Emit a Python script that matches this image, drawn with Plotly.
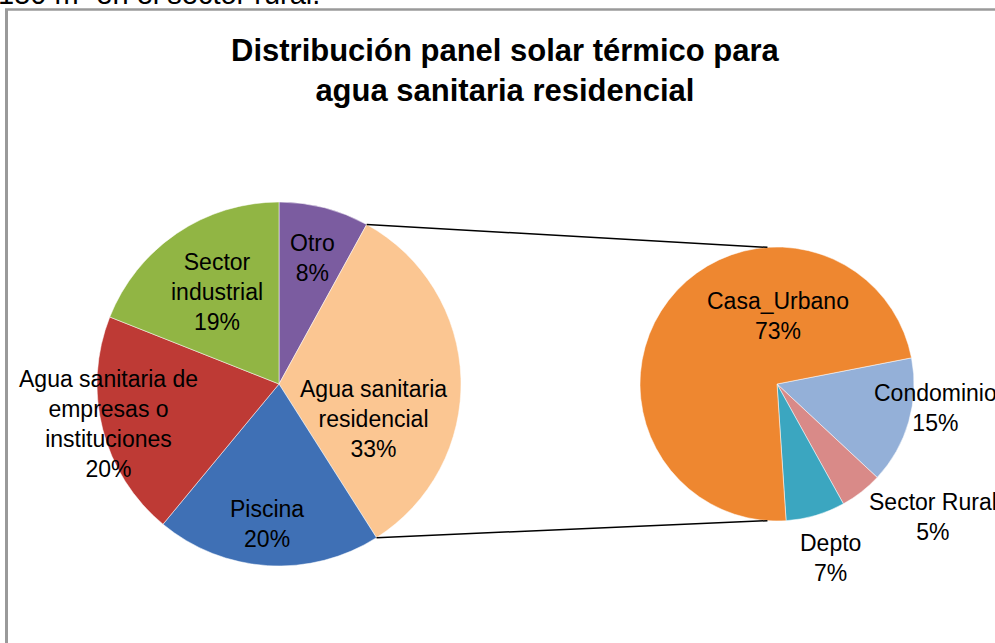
import math
import plotly.graph_objects as go

# ---------------- data ----------------
main_labels = ["Otro", "Agua sanitaria residencial", "Piscina",
               "Agua sanitaria de empresas o instituciones", "Sector industrial"]
main_values = [8, 33, 20, 20, 19]
main_text = ["Otro<br>8%", "Agua sanitaria<br>residencial<br>33%", "Piscina<br>20%",
             "Agua sanitaria de<br>empresas o<br>instituciones<br>20%", "Sector<br>industrial<br>19%"]
main_colors = ["#7B5CA0", "#FBC692", "#3F70B5", "#BE3A35", "#91B544"]

sub_labels = ["Condominio", "Sector Rural", "Depto", "Casa_Urbano"]
sub_values = [15, 5, 7, 73]
sub_text = ["Condominio<br>15%", "Sector Rural<br>5%", "Depto<br>7%", "Casa_Urbano<br>73%"]
sub_colors = ["#94B0D8", "#D98A88", "#3BA6C0", "#EE8730"]

title = "Distribución panel solar térmico para<br>agua sanitaria residencial"
above_text = "150 m² en el sector rural."

# ---------------- layout geometry (pixels) ----------------
W, H = 995, 643
L_CX, L_CY, L_R = 279, 384, 182
R_CX, R_CY, R_R = 777, 384, 137
SUB_ROT = 79          # start angle of the second pie (deg, clockwise from 12 o'clock)
EXPLODED = 1          # index of the main slice broken out into the second pie

# label offsets from pie centres (pixels)
main_offsets = [(33, -126), (94, 35), (-12, 140), (-171, 40), (-62, -92)]
sub_offsets = [(158, 24), (156, 133), (53, 174), (1, -68)]

FONT = "Liberation Sans, Arial, sans-serif"
LABEL_SIZE = 23
TITLE_SIZE = 31


def dom(cx, cy, r):
    return dict(x=[(cx - r) / W, (cx + r) / W], y=[1 - (cy + r) / H, 1 - (cy - r) / H])


def px_to_paper(x, y):
    return x / W, 1 - y / H


fig = go.Figure()
fig.add_trace(go.Pie(
    labels=main_labels, values=main_values, sort=False, direction="clockwise",
    rotation=0, textinfo="none", hoverinfo="label+percent",
    marker=dict(colors=main_colors, line=dict(color="rgba(255,255,255,0.5)", width=1)),
    domain=dom(L_CX, L_CY, L_R), showlegend=False,
))
fig.add_trace(go.Pie(
    labels=sub_labels, values=sub_values, sort=False, direction="clockwise",
    rotation=SUB_ROT, textinfo="none", hoverinfo="label+percent",
    marker=dict(colors=sub_colors, line=dict(color="rgba(255,255,255,0.5)", width=1)),
    domain=dom(R_CX, R_CY, R_R), showlegend=False,
))

annotations = []
for txt, (dx, dy) in zip(main_text, main_offsets):
    x, y = px_to_paper(L_CX + dx, L_CY + dy)
    annotations.append(dict(x=x, y=y, xref="paper", yref="paper", text=txt, showarrow=False,
                            xanchor="center", yanchor="middle",
                            font=dict(family=FONT, size=LABEL_SIZE, color="#000000")))
for txt, (dx, dy) in zip(sub_text, sub_offsets):
    x, y = px_to_paper(R_CX + dx, R_CY + dy)
    annotations.append(dict(x=x, y=y, xref="paper", yref="paper", text=txt, showarrow=False,
                            xanchor="center", yanchor="middle",
                            font=dict(family=FONT, size=LABEL_SIZE, color="#000000")))
# title
annotations.append(dict(x=505 / W, y=1 - 71 / H, xref="paper", yref="paper", text="<b>" + title + "</b>",
                        showarrow=False, xanchor="center", yanchor="middle",
                        font=dict(family=FONT, size=TITLE_SIZE, color="#000000")))
# text of the surrounding document, cut by the top edge
annotations.append(dict(x=-4 / W, y=1, xref="paper", yref="paper", text=above_text, showarrow=False,
                        xanchor="left", yanchor="bottom", yshift=-12,
                        font=dict(family=FONT, size=29, color="#000000")))

# connector lines from the exploded slice to the second pie
tot = sum(main_values)
a0 = 2 * math.pi * sum(main_values[:EXPLODED]) / tot
a1 = 2 * math.pi * sum(main_values[:EXPLODED + 1]) / tot
p_top = (L_CX + L_R * math.sin(a0), L_CY - L_R * math.cos(a0))
p_bot = (L_CX + L_R * math.sin(a1), L_CY - L_R * math.cos(a1))
b0 = math.radians(-4)
b1 = math.radians(184)
q_top = (R_CX + R_R * math.sin(b0), R_CY - R_R * math.cos(b0))
q_bot = (R_CX + R_R * math.sin(b1), R_CY - R_R * math.cos(b1))

shapes = []
for p, q in ((p_top, q_top), (p_bot, q_bot)):
    x0, y0 = px_to_paper(*p)
    x1, y1 = px_to_paper(*q)
    shapes.append(dict(type="line", xref="paper", yref="paper", x0=x0, y0=y0, x1=x1, y1=y1,
                       line=dict(color="#000000", width=1.5)))
# chart frame (left and top edges visible)
shapes.append(dict(type="line", xref="paper", yref="paper", x0=6.5 / W, x1=6.5 / W, y0=0, y1=1 - 9.5 / H,
                   line=dict(color="#9A9A9A", width=3)))
shapes.append(dict(type="line", xref="paper", yref="paper", x0=5 / W, x1=1, y0=1 - 9.5 / H, y1=1 - 9.5 / H,
                   line=dict(color="#9A9A9A", width=2.5)))

fig.update_layout(
    width=W, height=H, margin=dict(l=0, r=0, t=0, b=0),
    paper_bgcolor="#FFFFFF", plot_bgcolor="#FFFFFF",
    annotations=annotations, shapes=shapes,
)
fig.write_html("out.html", config={"displayModeBar": False},
               post_script="document.body.style.margin='0';document.body.style.overflow='hidden';")
